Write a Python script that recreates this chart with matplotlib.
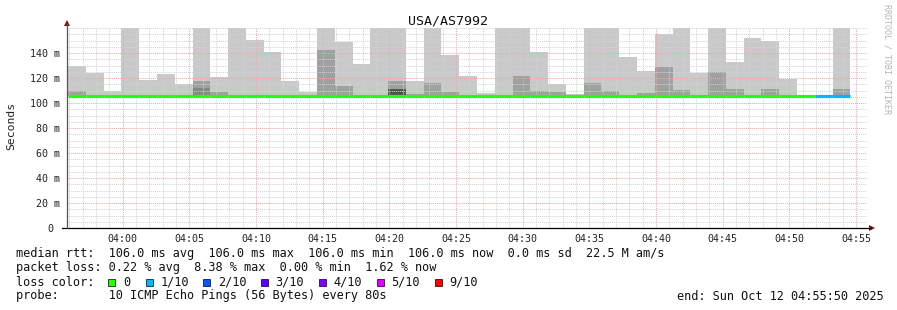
import numpy as np
import matplotlib
matplotlib.use("Agg")
import matplotlib.pyplot as plt
import matplotlib.dates as mdates
from matplotlib.lines import Line2D
from matplotlib.patches import Polygon, Rectangle
from matplotlib.ticker import FixedLocator, MultipleLocator, FuncFormatter

# ---------------- data ----------------
title = "USA/AS7992"
step_seconds = 80
first_step = np.datetime64("2025-10-12T03:55:55")
window_start = np.datetime64("2025-10-12T03:55:50")
window_end = np.datetime64("2025-10-12T04:55:50")

ping_min_ms = 106.0
# upper edge of smoke (light gray), ms
smoke_max = [129.6, 124.0, 109.5, 160.0, 118.4, 123.2, 115.5, 160.0, 120.8, 160.0,
             150.4, 140.8, 117.5, 108.5, 160.0, 148.8, 131.2, 160.0, 160.0, 117.4,
             160.0, 138.4, 121.6, 108.3, 160.0, 160.0, 140.8, 115.2, 107.0, 160.0,
             160.0, 136.8, 125.6, 155.2, 160.0, 124.0, 160.0, 132.8, 152.0, 149.6,
             119.2, 106.0, 106.0, 160.0]
# inner smoke band (medium gray), ms
smoke_mid = [109.6, 106.0, 106.0, 106.0, 106.0, 106.0, 106.0, 117.6, 108.8, 106.0,
             106.0, 106.0, 106.0, 106.0, 142.4, 113.6, 106.0, 106.0, 117.4, 107.5,
             116.2, 108.6, 106.0, 106.0, 106.0, 121.6, 109.6, 108.8, 106.0, 116.0,
             109.6, 106.0, 108.0, 128.8, 110.4, 106.0, 124.8, 111.2, 106.0, 111.2,
             106.0, 106.0, 106.0, 111.2]
# dense core of smoke (dark gray), ms
smoke_low = [106.0] * 7 + [112.0] + [106.0] * 36
smoke_lowest = [106.0] * 18 + [111.0] + [106.0] * 25
median_ms = [106.0, 106.0, 106.0, 106.0, 106.0, 106.0, 106.0, 106.0, 106.0, 106.0,
             106.0, 106.0, 106.0, 106.0, 106.0, 106.0, 106.0, 106.0, 106.0, 106.0,
             106.0, 106.0, 106.0, 106.0, 106.0, 106.0, 106.0, 106.0, 106.0, 106.0,
             106.0, 106.0, 106.0, 106.0, 106.0, 106.0, 106.0, 106.0, 106.0, 106.0,
             106.0, 106.0, 106.0, 106.0]
loss_tenths = [0] * 42 + [1, 1]

loss_labels = ["0", "1/10", "2/10", "3/10", "4/10", "5/10", "9/10"]
loss_levels = [0, 1, 2, 3, 4, 5, 9]
loss_colors = ["#26ff00", "#00b8ff", "#0059ff", "#5e00ff", "#7e00ff", "#dd00ff", "#ff0000"]

y_major = [0, 20, 40, 60, 80, 100, 120, 140]

legend_rows = [
    "median rtt:  106.0 ms avg  106.0 ms max  106.0 ms min  106.0 ms now  0.0 ms sd  22.5 M am/s",
    "packet loss: 0.22 % avg  8.38 % max  0.00 % min  1.62 % now",
    "loss color:",
    "probe:       10 ICMP Echo Pings (56 Bytes) every 80s",
]
end_text = "end: Sun Oct 12 04:55:50 2025"

# ---------------- figure ----------------
W, H = 897, 310
MONO = "DejaVu Sans Mono"
fig = plt.figure(figsize=(W / 100, H / 100), dpi=100)
fig.patch.set_facecolor("white")

def fx(px):
    return px / W

def fy(py):
    return (H - py) / H

ax = fig.add_axes([fx(67), fy(228), 800 / W, 200 / H])
ax.set_facecolor("white")

starts = first_step + np.arange(len(smoke_max)) * np.timedelta64(step_seconds, "s")
x0 = mdates.date2num(starts.astype("datetime64[s]").astype(object))
width = step_seconds / 86400.0

smoke_max = np.array(smoke_max)
smoke_mid = np.array(smoke_mid)
smoke_low = np.array(smoke_low)
smoke_lowest = np.array(smoke_lowest)

ax.bar(x0, smoke_max - ping_min_ms, bottom=ping_min_ms, width=width, align="edge",
       color="#c9c9c9", linewidth=0, zorder=1)
ax.bar(x0, smoke_mid - ping_min_ms, bottom=ping_min_ms, width=width, align="edge",
       color="#a0a0a0", linewidth=0, zorder=1.1)
ax.bar(x0, smoke_low - ping_min_ms, bottom=ping_min_ms, width=width, align="edge",
       color="#878787", linewidth=0, zorder=1.2)
ax.bar(x0, smoke_lowest - ping_min_ms, bottom=ping_min_ms, width=width, align="edge",
       color="#525252", linewidth=0, zorder=1.3)

color_of = dict(zip(loss_levels, loss_colors))
for xs, m, l in zip(x0, median_ms, loss_tenths):
    ax.hlines(m, xs, xs + width, colors=color_of[l], linewidth=2.3, zorder=4,
              capstyle="butt")

ax.set_xlim(mdates.date2num(window_start.astype(object)),
            mdates.date2num(window_end.astype(object)))
ax.set_ylim(0, 160)

ax.xaxis.set_major_locator(mdates.MinuteLocator(byminute=range(0, 60, 5)))
ax.xaxis.set_minor_locator(mdates.MinuteLocator())
ax.xaxis.set_major_formatter(mdates.DateFormatter("%H:%M"))
ax.yaxis.set_major_locator(FixedLocator(y_major))
ax.yaxis.set_minor_locator(MultipleLocator(5))
ax.yaxis.set_major_formatter(FuncFormatter(lambda v, p: "0 " if v == 0 else f"{int(v)} m"))

ax.set_axisbelow(False)
ax.grid(which="minor", color="#d2d2d2", linestyle=(0, (1, 1)), linewidth=0.7, zorder=2)
ax.grid(which="major", color="#f5a5a5", linestyle=(0, (1, 1)), linewidth=0.7, zorder=2.1)

ax.tick_params(which="both", length=0)
ax.tick_params(axis="y", pad=5.3, labelsize=7.2, labelcolor="#222222")
ax.tick_params(axis="x", pad=4.0, labelsize=7.2, labelcolor="#222222")
for lab in ax.get_xticklabels() + ax.get_yticklabels():
    lab.set_family(MONO)
for s in ax.spines.values():
    s.set_visible(False)

# axes lines with arrows
fig.add_artist(Line2D([fx(62), fx(871)], [fy(228), fy(228)], color="black", lw=0.9))
fig.add_artist(Line2D([fx(67), fx(67)], [fy(228), fy(24)], color="#555555", lw=0.9))
fig.add_artist(Polygon([(fx(869), fy(225)), (fx(875), fy(228)), (fx(869), fy(231))],
                       closed=True, color="#8b1010", lw=0))
fig.add_artist(Polygon([(fx(64), fy(26)), (fx(67), fy(20)), (fx(70), fy(26))],
                       closed=True, color="#8b1010", lw=0))

# texts
LEG = 8.55
fig.text(fx(448), fy(24), title, ha="center", va="baseline", fontsize=9.5,
         family=MONO, color="#111111")
fig.text(fx(11), fy(126), "Seconds", rotation=90, ha="center", va="center",
         fontsize=8.2, family=MONO, color="#222222")
fig.text(fx(887), fy(4), "RRDTOOL / TOBI OETIKER", rotation=270, ha="center", va="top",
         fontsize=6.0, family=MONO, color="#b5b5b5")

baselines = [257.5, 271.5, 285.5, 299.5]
for txt, b in zip(legend_rows, baselines):
    fig.text(fx(15.5), fy(b), txt, ha="left", va="baseline", fontsize=LEG,
             family=MONO, color="#111111")

sq_left = [108.3, 145.7, 203.3, 261.0, 319.0, 376.7, 435.0]
for xl, lab, col in zip(sq_left, loss_labels, loss_colors):
    fig.add_artist(Rectangle((fx(xl), fy(286)), 7 / W, 7 / H, facecolor=col,
                             edgecolor="black", lw=0.5))
    fig.text(fx(xl + 14.5), fy(285.5), lab, ha="left", va="baseline", fontsize=LEG,
             family=MONO, color="#111111")

fig.text(fx(884), fy(299.5), end_text, ha="right", va="baseline", fontsize=LEG,
         family=MONO, color="#111111")

fig.savefig("out.png", dpi=100, facecolor="white")
